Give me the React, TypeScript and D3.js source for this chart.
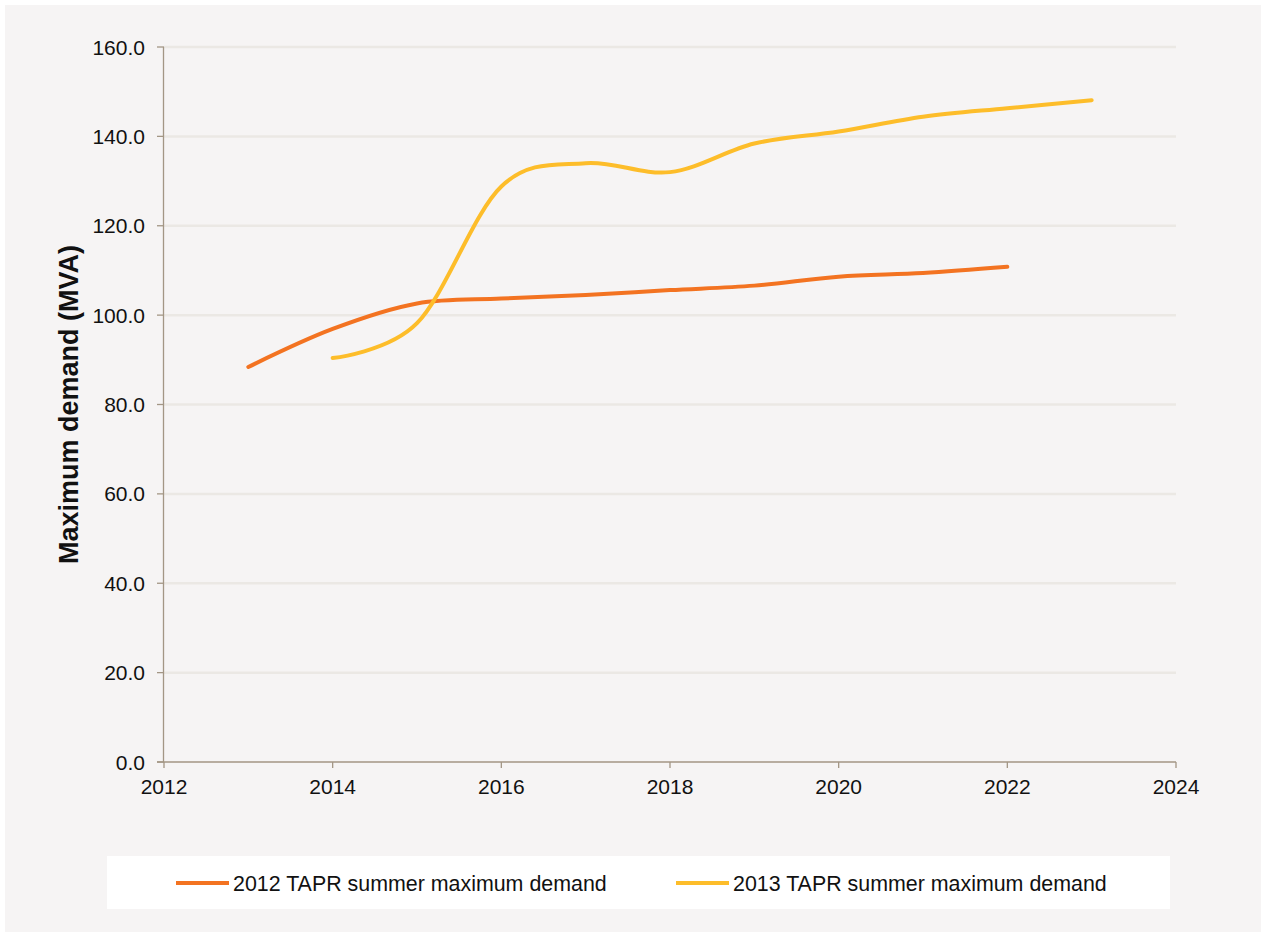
import React from "react";
import * as d3 from "d3";

const years2012 = [2013, 2014, 2015, 2016, 2017, 2018, 2019, 2020, 2021, 2022];
const demand2012 = [88.4, 96.9, 102.6, 103.7, 104.5, 105.6, 106.6, 108.6, 109.4, 110.8];

const years2013 = [2014, 2015, 2016, 2017, 2018, 2019, 2020, 2021, 2022, 2023];
const demand2013 = [90.4, 98.2, 128.8, 134.0, 132.0, 138.4, 141.1, 144.4, 146.3, 148.1];

const xTicks = [2012, 2014, 2016, 2018, 2020, 2022, 2024];
const yTicks = [0, 20, 40, 60, 80, 100, 120, 140, 160];

const seriesNames = ["2012 TAPR summer maximum demand", "2013 TAPR summer maximum demand"];
const seriesColors = ["#f37321", "#fdbd2a"];

const W = 1261;
const H = 934;
const plot = { left: 164, right: 1176, top: 47, bottom: 762 };
const FONT = "'Liberation Sans', Arial, sans-serif";

export default function App() {
  const x = d3.scaleLinear().domain([2012, 2024]).range([plot.left, plot.right]);
  const y = d3.scaleLinear().domain([0, 160]).range([plot.bottom, plot.top]);

  const line = d3
    .line<[number, number]>()
    .x((d) => x(d[0]))
    .y((d) => y(d[1]))
    .curve(d3.curveCardinal.tension(0));

  const series = [
    years2012.map((yr, i) => [yr, demand2012[i]] as [number, number]),
    years2013.map((yr, i) => [yr, demand2013[i]] as [number, number]),
  ];

  const axisColor = "#a39685";
  const gridColor = "#ebe8e4";

  const legendItems = [
    { x0: 176, name: seriesNames[0], color: seriesColors[0] },
    { x0: 676, name: seriesNames[1], color: seriesColors[1] },
  ];

  return (
    <svg
      width={W}
      height={H}
      style={{ position: "absolute", left: 0, top: 0, display: "block" }}
      fontFamily={FONT}
    >
      <rect x={0} y={0} width={W} height={H} fill="#ffffff" />
      <rect x={5} y={5} width={W - 5} height={927} fill="#f6f4f4" />

      {/* horizontal gridlines */}
      {yTicks.slice(1).map((t) => (
        <line
          key={"g" + t}
          x1={plot.left}
          x2={plot.right}
          y1={y(t)}
          y2={y(t)}
          stroke={gridColor}
          strokeWidth={2.5}
        />
      ))}

      {/* y axis */}
      <line x1={plot.left - 0.5} x2={plot.left - 0.5} y1={plot.top} y2={plot.bottom} stroke={axisColor} strokeWidth={1.3} />
      {yTicks.map((t) => (
        <g key={"y" + t}>
          <line x1={plot.left - 7} x2={plot.left} y1={y(t)} y2={y(t)} stroke={axisColor} strokeWidth={1.3} />
          <text x={145} y={y(t) + 7.5} textAnchor="end" fontSize={21} fill="#111">
            {t.toFixed(1)}
          </text>
        </g>
      ))}

      {/* x axis */}
      <line x1={plot.left - 7} x2={plot.right} y1={plot.bottom} y2={plot.bottom} stroke={axisColor} strokeWidth={1.3} />
      {xTicks.map((t) => (
        <g key={"x" + t}>
          <line x1={x(t)} x2={x(t)} y1={plot.bottom} y2={plot.bottom + 6} stroke={axisColor} strokeWidth={1.3} />
          <text x={x(t)} y={794} textAnchor="middle" fontSize={21} fill="#111">
            {t}
          </text>
        </g>
      ))}

      {/* y axis title */}
      <text
        transform={`translate(78, ${(plot.top + plot.bottom) / 2}) rotate(-90)`}
        textAnchor="middle"
        fontSize={27}
        fontWeight="bold"
        fill="#111"
      >
        Maximum demand (MVA)
      </text>

      {/* series lines */}
      {series.map((s, i) => (
        <path
          key={"s" + i}
          d={line(s) || ""}
          fill="none"
          stroke={seriesColors[i]}
          strokeWidth={4}
          strokeLinecap="round"
          strokeLinejoin="round"
        />
      ))}

      {/* legend */}
      <rect x={107} y={856} width={1063} height={53} fill="#ffffff" />
      {legendItems.map((it) => (
        <g key={it.name}>
          <line x1={it.x0} x2={it.x0 + 53} y1={883} y2={883} stroke={it.color} strokeWidth={4} />
          <text x={it.x0 + 57} y={890.5} fontSize={21.4} fill="#111">
            {it.name}
          </text>
        </g>
      ))}
    </svg>
  );
}
